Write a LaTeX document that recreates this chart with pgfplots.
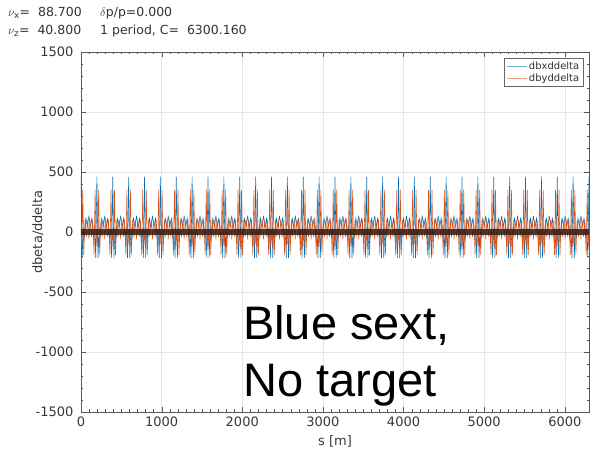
\documentclass[border=0pt]{standalone}
\usepackage{pgfplots}
\pgfplotsset{compat=1.18}
\usepackage{fontspec}
\setmainfont{DejaVu Sans}
\newfontfamily\bigfont{Liberation Sans}
\definecolor{cblue}{RGB}{0,114,189}
\definecolor{corange}{RGB}{217,83,25}
\definecolor{cband}{RGB}{40,24,18}

\begin{document}
\begin{tikzpicture}[x=1pt,y=1pt]
\useasboundingbox (-81,-37) rectangle (510,412);

% lattice header
\node[anchor=base west,inner sep=0,font=\fontsize{12.5}{14}\selectfont,text=black!80] at (-73,395) {$\nu_{\mathrm{x}}$= \ 88.700};
\node[anchor=base west,inner sep=0,font=\fontsize{12.5}{14}\selectfont,text=black!80] at (19,395) {$\delta$p/p=0.000};
\node[anchor=base west,inner sep=0,font=\fontsize{12.5}{14}\selectfont,text=black!80] at (-73,377) {$\nu_{\mathrm{z}}$= \ 40.800};
\node[anchor=base west,inner sep=0,font=\fontsize{12.5}{14}\selectfont,text=black!80] at (19,377) {1 period, C= \ 6300.160};

\begin{axis}[
  scale only axis, width=508pt, height=360pt,
  xmin=0, xmax=6300.16, ymin=-1500, ymax=1500,
  xtick={0,1000,...,6000}, ytick={-1500,-1000,...,1500},
  minor x tick num=9, minor y tick num=4,
  tick align=inside, xtick pos=both, ytick pos=both,
  major tick length=5pt, minor tick length=2.5pt,
  grid=major, major grid style={black!10, line width=0.6pt},
  axis line style={black!65}, tick style={black!65},
  ticklabel style={font=\fontsize{13}{15}\selectfont, text=black!78},
  xticklabel style={yshift=-1.5pt},
  yticklabel style={xshift=-4pt},
  /pgf/number format/assume math mode=true,
  /pgf/number format/1000 sep={},
  scaled ticks=false,
  xlabel={s [m]}, ylabel={dbeta/ddelta},
  label style={font=\fontsize{13}{15}\selectfont, text=black!78},
  xlabel style={at={(axis description cs:0.5,-0.083)}, anchor=center},
  ylabel style={at={(axis description cs:-0.085,0.5)}, anchor=center},
  legend style={at={(rel axis cs:0.988,0.983)}, anchor=north east,
    font=\fontsize{10}{11}\selectfont, draw=black!60, inner sep=1.5pt,
    row sep=-1pt, cells={anchor=west}, text=black!80},
  legend image code/.code={\draw[#1, line width=0.8pt, opacity=0.55] (0pt,0pt) -- (20pt,0pt);},
  every axis plot/.append style={line join=round},
]
% dbx/ddelta
\addplot[cblue, line width=0.55pt] coordinates {
(0,460)(14,-215)(28,30)(42,-50)(60,120)(78,40)(98,135)(118,40)(136,120)(154,-50)(168,30)(183,-215)
(197,460)(211,-215)(225,30)(239,-50)(257,120)(275,40)(295,135)(315,40)(333,120)(351,-50)(365,30)(380,-215)
(394,460)(408,-215)(422,30)(436,-50)(454,120)(472,40)(492,135)(512,40)(530,120)(548,-50)(562,30)(577,-215)
(591,455)(605,-215)(619,30)(633,-50)(651,120)(669,40)(689,135)(709,40)(727,120)(745,-50)(759,30)(774,-215)
(788,460)(802,-215)(816,30)(830,-50)(848,120)(866,40)(886,135)(906,40)(924,120)(942,-50)(956,30)(971,-215)
(984,460)(998,-215)(1012,30)(1026,-50)(1044,120)(1062,40)(1082,135)(1102,40)(1120,120)(1138,-50)(1152,30)(1167,-215)
(1181,460)(1195,-215)(1209,30)(1223,-50)(1241,120)(1259,40)(1279,135)(1299,40)(1317,120)(1335,-50)(1349,30)(1364,-215)
(1378,460)(1392,-215)(1406,30)(1420,-50)(1438,120)(1456,40)(1476,135)(1496,40)(1514,120)(1532,-50)(1546,30)(1561,-215)
(1575,460)(1589,-215)(1603,30)(1617,-50)(1635,120)(1653,40)(1673,135)(1693,40)(1711,120)(1729,-50)(1743,30)(1758,-215)
(1772,460)(1786,-215)(1800,30)(1814,-50)(1832,120)(1850,40)(1870,135)(1890,40)(1908,120)(1926,-50)(1940,30)(1955,-215)
(1969,460)(1983,-215)(1997,30)(2011,-50)(2029,120)(2047,40)(2067,135)(2087,40)(2105,120)(2123,-50)(2137,30)(2152,-215)
(2166,460)(2180,-215)(2194,30)(2208,-50)(2226,120)(2244,40)(2264,135)(2284,40)(2302,120)(2320,-50)(2334,30)(2349,-215)
(2363,460)(2377,-215)(2391,30)(2405,-50)(2423,120)(2441,40)(2461,135)(2481,40)(2499,120)(2517,-50)(2531,30)(2546,-215)
(2559,460)(2573,-215)(2587,30)(2601,-50)(2619,120)(2637,40)(2657,135)(2677,40)(2695,120)(2713,-50)(2727,30)(2742,-215)
(2756,460)(2770,-215)(2784,30)(2798,-50)(2816,120)(2834,40)(2854,135)(2874,40)(2892,120)(2910,-50)(2924,30)(2939,-215)
(2953,460)(2967,-215)(2981,30)(2995,-50)(3013,120)(3031,40)(3051,135)(3071,40)(3089,120)(3107,-50)(3121,30)(3136,-215)
(3150,460)(3164,-215)(3178,30)(3192,-50)(3210,120)(3228,40)(3248,135)(3268,40)(3286,120)(3304,-50)(3318,30)(3333,-215)
(3347,460)(3361,-215)(3375,30)(3389,-50)(3407,120)(3425,40)(3445,135)(3465,40)(3483,120)(3501,-50)(3515,30)(3530,-215)
(3544,460)(3558,-215)(3572,30)(3586,-50)(3604,120)(3622,40)(3642,135)(3662,40)(3680,120)(3698,-50)(3712,30)(3727,-215)
(3741,460)(3755,-215)(3769,30)(3783,-50)(3801,120)(3819,40)(3839,135)(3859,40)(3877,120)(3895,-50)(3909,30)(3924,-215)
(3938,460)(3952,-215)(3966,30)(3980,-50)(3998,120)(4016,40)(4036,135)(4056,40)(4074,120)(4092,-50)(4106,30)(4121,-215)
(4134,460)(4148,-215)(4162,30)(4176,-50)(4194,120)(4212,40)(4232,135)(4252,40)(4270,120)(4288,-50)(4302,30)(4317,-215)
(4331,460)(4345,-215)(4359,30)(4373,-50)(4391,120)(4409,40)(4429,135)(4449,40)(4467,120)(4485,-50)(4499,30)(4514,-215)
(4528,460)(4542,-215)(4556,30)(4570,-50)(4588,120)(4606,40)(4626,135)(4646,40)(4664,120)(4682,-50)(4696,30)(4711,-215)
(4725,460)(4739,-215)(4753,30)(4767,-50)(4785,120)(4803,40)(4823,135)(4843,40)(4861,120)(4879,-50)(4893,30)(4908,-215)
(4922,460)(4936,-215)(4950,30)(4964,-50)(4982,120)(5000,40)(5020,135)(5040,40)(5058,120)(5076,-50)(5090,30)(5105,-215)
(5119,460)(5133,-215)(5147,30)(5161,-50)(5179,120)(5197,40)(5217,135)(5237,40)(5255,120)(5273,-50)(5287,30)(5302,-215)
(5316,460)(5330,-215)(5344,30)(5358,-50)(5376,120)(5394,40)(5414,135)(5434,40)(5452,120)(5470,-50)(5484,30)(5499,-215)
(5513,460)(5527,-215)(5541,30)(5555,-50)(5573,120)(5591,40)(5611,135)(5631,40)(5649,120)(5667,-50)(5681,30)(5696,-215)
(5710,460)(5724,-215)(5738,30)(5752,-50)(5770,120)(5788,40)(5808,135)(5828,40)(5846,120)(5864,-50)(5878,30)(5893,-215)
(5906,460)(5920,-215)(5934,30)(5948,-50)(5966,120)(5984,40)(6004,135)(6024,40)(6042,120)(6060,-50)(6074,30)(6089,-215)
(6103,460)(6117,-215)(6131,30)(6145,-50)(6163,120)(6181,40)(6201,135)(6221,40)(6239,120)(6257,-50)(6271,30)(6286,-215)
(6300,460)
};
\addlegendentry{dbxddelta}
% dby/ddelta
\addplot[corange, line width=0.55pt] coordinates {
(0,20)(10,-120)(22,350)(34,-190)(50,100)(66,-40)(84,100)(98,-60)(112,100)(130,-40)(146,100)(162,-190)(175,350)(187,-120)
(197,20)(207,-120)(219,350)(231,-190)(247,100)(263,-40)(281,100)(295,-60)(309,100)(327,-40)(343,100)(359,-190)(372,350)(384,-120)
(394,20)(404,-120)(416,350)(428,-190)(444,100)(460,-40)(478,100)(492,-60)(506,100)(524,-40)(540,100)(556,-190)(569,350)(581,-120)
(591,20)(601,-120)(613,350)(625,-190)(641,100)(657,-40)(675,100)(689,-60)(703,100)(721,-40)(737,100)(753,-190)(766,350)(778,-120)
(788,20)(798,-120)(810,350)(822,-190)(838,100)(854,-40)(872,100)(886,-60)(900,100)(918,-40)(934,100)(950,-190)(963,350)(975,-120)
(984,20)(994,-120)(1006,350)(1018,-190)(1034,100)(1050,-40)(1068,100)(1082,-60)(1096,100)(1114,-40)(1130,100)(1146,-190)(1159,350)(1171,-120)
(1181,20)(1191,-120)(1203,350)(1215,-190)(1231,100)(1247,-40)(1265,100)(1279,-60)(1293,100)(1311,-40)(1327,100)(1343,-190)(1356,350)(1368,-120)
(1378,20)(1388,-120)(1400,350)(1412,-190)(1428,100)(1444,-40)(1462,100)(1476,-60)(1490,100)(1508,-40)(1524,100)(1540,-190)(1553,350)(1565,-120)
(1575,20)(1585,-120)(1597,350)(1609,-190)(1625,100)(1641,-40)(1659,100)(1673,-60)(1687,100)(1705,-40)(1721,100)(1737,-190)(1750,350)(1762,-120)
(1772,20)(1782,-120)(1794,350)(1806,-190)(1822,100)(1838,-40)(1856,100)(1870,-60)(1884,100)(1902,-40)(1918,100)(1934,-190)(1947,350)(1959,-120)
(1969,20)(1979,-120)(1991,350)(2003,-190)(2019,100)(2035,-40)(2053,100)(2067,-60)(2081,100)(2099,-40)(2115,100)(2131,-190)(2144,350)(2156,-120)
(2166,20)(2176,-120)(2188,350)(2200,-190)(2216,100)(2232,-40)(2250,100)(2264,-60)(2278,100)(2296,-40)(2312,100)(2328,-190)(2341,350)(2353,-120)
(2363,20)(2373,-120)(2385,350)(2397,-190)(2413,100)(2429,-40)(2447,100)(2461,-60)(2475,100)(2493,-40)(2509,100)(2525,-190)(2538,350)(2550,-120)
(2559,20)(2569,-120)(2581,350)(2593,-190)(2609,100)(2625,-40)(2643,100)(2657,-60)(2671,100)(2689,-40)(2705,100)(2721,-190)(2734,350)(2746,-120)
(2756,20)(2766,-120)(2778,350)(2790,-190)(2806,100)(2822,-40)(2840,100)(2854,-60)(2868,100)(2886,-40)(2902,100)(2918,-190)(2931,350)(2943,-120)
(2953,20)(2963,-120)(2975,350)(2987,-190)(3003,100)(3019,-40)(3037,100)(3051,-60)(3065,100)(3083,-40)(3099,100)(3115,-190)(3128,350)(3140,-120)
(3150,20)(3160,-120)(3172,350)(3184,-190)(3200,100)(3216,-40)(3234,100)(3248,-60)(3262,100)(3280,-40)(3296,100)(3312,-190)(3325,350)(3337,-120)
(3347,20)(3357,-120)(3369,350)(3381,-190)(3397,100)(3413,-40)(3431,100)(3445,-60)(3459,100)(3477,-40)(3493,100)(3509,-190)(3522,350)(3534,-120)
(3544,20)(3554,-120)(3566,350)(3578,-190)(3594,100)(3610,-40)(3628,100)(3642,-60)(3656,100)(3674,-40)(3690,100)(3706,-190)(3719,350)(3731,-120)
(3741,20)(3751,-120)(3763,350)(3775,-190)(3791,100)(3807,-40)(3825,100)(3839,-60)(3853,100)(3871,-40)(3887,100)(3903,-190)(3916,350)(3928,-120)
(3938,20)(3948,-120)(3960,350)(3972,-190)(3988,100)(4004,-40)(4022,100)(4036,-60)(4050,100)(4068,-40)(4084,100)(4100,-190)(4113,350)(4125,-120)
(4134,20)(4144,-120)(4156,350)(4168,-190)(4184,100)(4200,-40)(4218,100)(4232,-60)(4246,100)(4264,-40)(4280,100)(4296,-190)(4309,350)(4321,-120)
(4331,20)(4341,-120)(4353,350)(4365,-190)(4381,100)(4397,-40)(4415,100)(4429,-60)(4443,100)(4461,-40)(4477,100)(4493,-190)(4506,350)(4518,-120)
(4528,20)(4538,-120)(4550,350)(4562,-190)(4578,100)(4594,-40)(4612,100)(4626,-60)(4640,100)(4658,-40)(4674,100)(4690,-190)(4703,350)(4715,-120)
(4725,20)(4735,-120)(4747,350)(4759,-190)(4775,100)(4791,-40)(4809,100)(4823,-60)(4837,100)(4855,-40)(4871,100)(4887,-190)(4900,350)(4912,-120)
(4922,20)(4932,-120)(4944,350)(4956,-190)(4972,100)(4988,-40)(5006,100)(5020,-60)(5034,100)(5052,-40)(5068,100)(5084,-190)(5097,350)(5109,-120)
(5119,20)(5129,-120)(5141,350)(5153,-190)(5169,100)(5185,-40)(5203,100)(5217,-60)(5231,100)(5249,-40)(5265,100)(5281,-190)(5294,350)(5306,-120)
(5316,20)(5326,-120)(5338,350)(5350,-190)(5366,100)(5382,-40)(5400,100)(5414,-60)(5428,100)(5446,-40)(5462,100)(5478,-190)(5491,350)(5503,-120)
(5513,20)(5523,-120)(5535,350)(5547,-190)(5563,100)(5579,-40)(5597,100)(5611,-60)(5625,100)(5643,-40)(5659,100)(5675,-190)(5688,350)(5700,-120)
(5710,20)(5720,-120)(5732,350)(5744,-190)(5760,100)(5776,-40)(5794,100)(5808,-60)(5822,100)(5840,-40)(5856,100)(5872,-190)(5885,350)(5897,-120)
(5906,20)(5916,-120)(5928,350)(5940,-190)(5956,100)(5972,-40)(5990,100)(6004,-60)(6018,100)(6036,-40)(6052,100)(6068,-190)(6081,350)(6093,-120)
(6103,20)(6113,-120)(6125,350)(6137,-190)(6153,100)(6169,-40)(6187,100)(6201,-60)(6215,100)(6233,-40)(6249,100)(6265,-190)(6278,350)(6290,-120)
(6300,20)
};
\addlegendentry{dbyddelta}
% dense small oscillation of both curves around zero
\addplot[cband, line width=6pt, opacity=0.8, forget plot] coordinates {(0,0)(6300.16,0)};
\end{axis}

\node[anchor=base west,inner sep=0,font=\bigfont\fontsize{47}{52}\selectfont] at (162,72) {Blue sext,};
\node[anchor=base west,inner sep=0,font=\bigfont\fontsize{47}{52}\selectfont] at (162,15) {No target};
\end{tikzpicture}
\end{document}
